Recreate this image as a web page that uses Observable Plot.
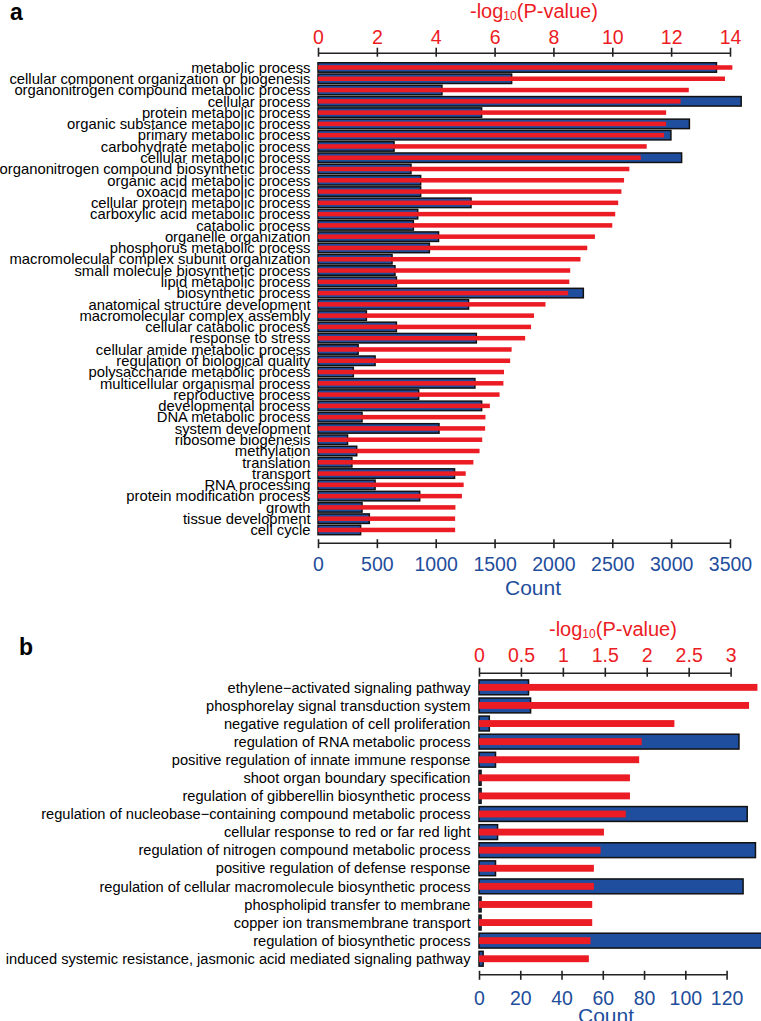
<!DOCTYPE html>
<html>
<head>
<meta charset="utf-8">
<script src="https://cdn.jsdelivr.net/npm/d3@7"></script>
<script src="https://cdn.jsdelivr.net/npm/@observablehq/plot@0.6"></script>
<style>
  html, body { margin: 0; padding: 0; background: #fff; }
  #wrap { position: relative; width: 761px; height: 1021px; overflow: hidden;
          font-family: "Liberation Sans", Arial, Helvetica, sans-serif; }
  .panel { position: absolute; left: 0; }
  .lab { position: absolute; white-space: nowrap; line-height: 1; }
  .lab sub { font-size: 12px; vertical-align: -2px; line-height: 0; }
</style>
</head>
<body>
<div id="wrap">
  <div class="panel" id="pa" style="top:0px"></div>
  <div class="panel" id="pb" style="top:610px"></div>
  <div class="lab" style="left:10px;top:0.5px;font-size:23px;font-weight:bold;color:#000">a</div>
  <div class="lab" style="left:470px;top:1.4px;font-size:20px;color:#ec1c24">-log<sub>10</sub>(P-value)</div>
  <div class="lab" style="left:505px;top:577.2px;font-size:21px;color:#1f4e9c">Count</div>
  <div class="lab" style="left:19px;top:635.5px;font-size:23px;font-weight:bold;color:#000">b</div>
  <div class="lab" style="left:549px;top:619.1px;font-size:20px;color:#ec1c24">-log<sub>10</sub>(P-value)</div>
  <div class="lab" style="left:578px;top:1004.5px;font-size:21px;color:#1f4e9c">Count</div>
</div>
<script>
// ---------------- Panel a data ----------------
const catsA = [
  "metabolic process",
  "cellular component organization or biogenesis",
  "organonitrogen compound metabolic process",
  "cellular process",
  "protein metabolic process",
  "organic substance metabolic process",
  "primary metabolic process",
  "carbohydrate metabolic process",
  "cellular metabolic process",
  "organonitrogen compound biosynthetic process",
  "organic acid metabolic process",
  "oxoacid metabolic process",
  "cellular protein metabolic process",
  "carboxylic acid metabolic process",
  "catabolic process",
  "organelle organization",
  "phosphorus metabolic process",
  "macromolecular complex subunit organization",
  "small molecule biosynthetic process",
  "lipid metabolic process",
  "biosynthetic process",
  "anatomical structure development",
  "macromolecular complex assembly",
  "cellular catabolic process",
  "response to stress",
  "cellular amide metabolic process",
  "regulation of biological quality",
  "polysaccharide metabolic process",
  "multicellular organismal process",
  "reproductive process",
  "developmental process",
  "DNA metabolic process",
  "system development",
  "ribosome biogenesis",
  "methylation",
  "translation",
  "transport",
  "RNA processing",
  "protein modification process",
  "growth",
  "tissue development",
  "cell cycle"
];
const countA = [3385, 1645, 1053, 3595, 1390, 3155, 2998, 646, 3089, 790,
  872, 872, 1300, 847, 810, 1024, 946, 629, 654, 666,
  2254, 1279, 411, 666, 1345, 341, 485, 300, 1333, 855,
  1390, 374, 1028, 251, 329, 288, 1160, 485, 864, 374, 436, 362];
const logpA = [14.08, 13.83, 12.60, 12.32, 11.83, 11.83, 11.76, 11.17, 10.97, 10.58,
  10.40, 10.31, 10.20, 10.10, 10.00, 9.41, 9.15, 8.92, 8.57, 8.54,
  8.50, 7.73, 7.34, 7.24, 7.04, 6.58, 6.53, 6.32, 6.30, 6.17,
  5.84, 5.69, 5.68, 5.58, 5.49, 5.28, 5.02, 4.95, 4.89, 4.67, 4.66, 4.66];
const logpTicksA = [0, 2, 4, 6, 8, 10, 12, 14];
const countTicksA = [0, 500, 1000, 1500, 2000, 2500, 3000, 3500];

// ---------------- Panel b data ----------------
const catsB = [
  "ethylene\u2212activated signaling pathway",
  "phosphorelay signal transduction system",
  "negative regulation of cell proliferation",
  "regulation of RNA metabolic process",
  "positive regulation of innate immune response",
  "shoot organ boundary specification",
  "regulation of gibberellin biosynthetic process",
  "regulation of nucleobase\u2212containing compound metabolic process",
  "cellular response to red or far red light",
  "regulation of nitrogen compound metabolic process",
  "positive regulation of defense response",
  "regulation of cellular macromolecule biosynthetic process",
  "phospholipid transfer to membrane",
  "copper ion transmembrane transport",
  "regulation of biosynthetic process",
  "induced systemic resistance, jasmonic acid mediated signaling pathway"
];
const countB = [24, 25, 5, 126, 8, 1, 1, 130, 9, 134, 8, 128, 1, 1, 137, 2];
const logpB = [3.32, 3.22, 2.33, 1.94, 1.91, 1.80, 1.80, 1.75, 1.49, 1.45, 1.37, 1.37, 1.35, 1.35, 1.33, 1.31];
const logpTicksB = [0, 0.5, 1, 1.5, 2, 2.5, 3];
const countTicksB = [0, 20, 40, 60, 80, 100, 120];

// ---------------- styling ----------------
const RED = "#ec1c24";
const BLUE = "#1f4e9e";
const BLUE_TXT = "#1f4e9c";
const AXIS = "#222";
const FONT = "'Liberation Sans', Arial, Helvetica, sans-serif";

function panel(cfg) {
  const {cats, count, logp, logpTicks, countTicks, factor, width, height,
         marginLeft, marginRight, marginTop, marginBottom, yDomain, xDomain,
         blueHalf, redHalf, labelSize, tickSize, topDy, bottomDy, labelDx} = cfg;
  const rows = cats.map((c, i) => ({cat: c, i, count: count[i], logp: logp[i]}));
  const stepPx = (height - marginTop - marginBottom) / (yDomain[1] - yDomain[0]);
  const yTop = yDomain[0], yBot = yDomain[1];
  const px = (p) => p / stepPx;
  const countMax = countTicks[countTicks.length - 1];
  return Plot.plot({
    width, height, marginLeft, marginRight, marginTop, marginBottom,
    style: {fontFamily: FONT, background: "transparent", overflow: "visible"},
    x: {domain: xDomain, axis: null},
    y: {domain: yDomain, reverse: true, axis: null},
    marks: [
      // count bars (blue)
      Plot.rect(rows, {x1: 0, x2: d => d.count / factor, y1: d => d.i - blueHalf, y2: d => d.i + blueHalf,
        fill: BLUE, stroke: "#111", strokeWidth: 1.5}),
      // -log10(P) bars (red)
      Plot.rect(rows, {x1: 0, x2: d => d.logp, y1: d => d.i - redHalf, y2: d => d.i + redHalf,
        fill: RED}),
      // category labels
      Plot.text(rows, {x: 0, y: "i", text: "cat", textAnchor: "end", dx: labelDx, lineAnchor: "middle",
        fontSize: labelSize, fill: "#000"}),
      // top axis (-log10 P)
      Plot.ruleY([yTop], {x1: 0, x2: logpTicks[logpTicks.length - 1], stroke: AXIS, strokeWidth: 1.6}),
      Plot.ruleX(logpTicks, {x: d => d, y1: yTop - px(5), y2: yTop + px(4), stroke: AXIS, strokeWidth: 1.6}),
      Plot.text(logpTicks, {x: d => d, y: yTop, dy: topDy, text: d => String(d), lineAnchor: "bottom",
        fontSize: tickSize, fill: RED}),
      // bottom axis (Count)
      Plot.ruleY([yBot], {x1: 0, x2: countMax / factor, stroke: AXIS, strokeWidth: 1.6}),
      Plot.ruleX(countTicks, {x: d => d / factor, y1: yBot - px(3.5), y2: yBot + px(5.5), stroke: AXIS, strokeWidth: 1.6}),
      Plot.text(countTicks, {x: d => d / factor, y: yBot, dy: bottomDy, text: d => String(d), lineAnchor: "bottom",
        fontSize: tickSize, fill: BLUE_TXT})
    ]
  });
}

document.getElementById("pa").appendChild(panel({
  cats: catsA, count: countA, logp: logpA, logpTicks: logpTicksA, countTicks: countTicksA,
  factor: 250, width: 761, height: 600,
  marginLeft: 318, marginRight: 31, marginTop: 52.7, marginBottom: 57.3,
  xDomain: [0, 14], yDomain: [-1.31, 42.13],
  blueHalf: 0.42, redHalf: 0.2, labelSize: 14.8, tickSize: 19.5,
  topDy: -9.4, bottomDy: 28, labelDx: -8
}));

document.getElementById("pb").appendChild(panel({
  cats: catsB, count: countB, logp: logpB, logpTicks: logpTicksB, countTicks: countTicksB,
  factor: 40.65, width: 761, height: 411,
  marginLeft: 479, marginRight: 30.4, marginTop: 62.7, marginBottom: 46.7,
  xDomain: [0, 3], yDomain: [-0.81, 15.86],
  blueHalf: 0.41, redHalf: 0.19, labelSize: 14.65, tickSize: 19.5,
  topDy: -11, bottomDy: 29.7, labelDx: -9
}));
</script>
</body>
</html>
